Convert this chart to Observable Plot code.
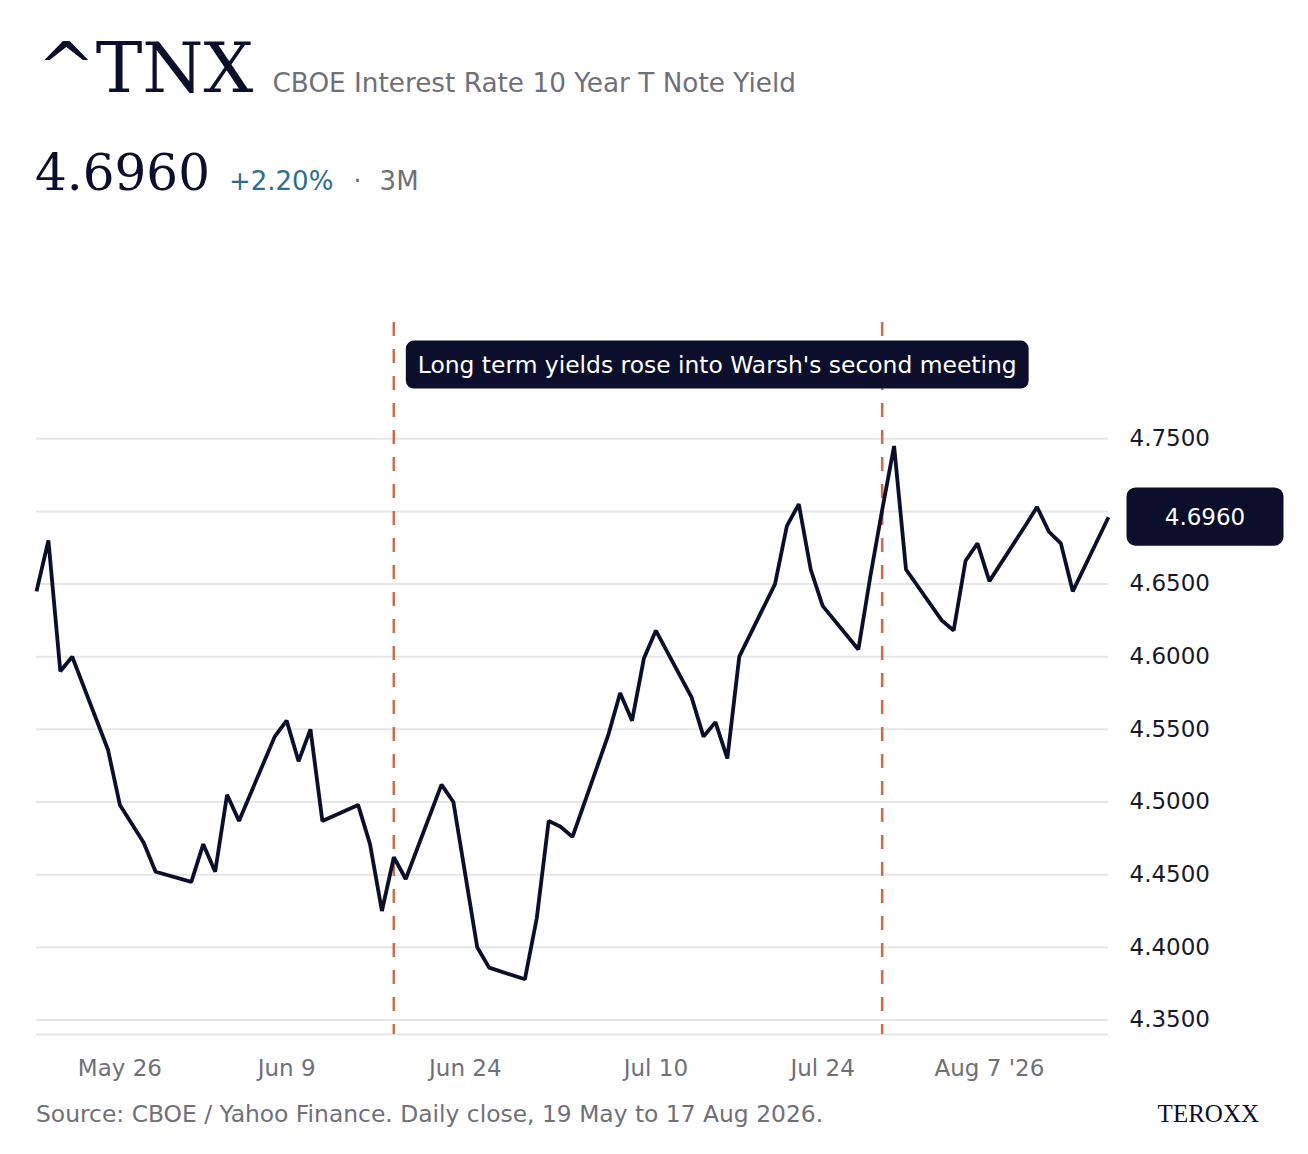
<!DOCTYPE html>
<html>
<head>
<meta charset="utf-8">
<script src="https://cdn.jsdelivr.net/npm/d3@7"></script>
<script src="https://cdn.jsdelivr.net/npm/@observablehq/plot@0.6"></script>
<style>
  html, body { margin: 0; padding: 0; background: #ffffff; }
  #page { position: relative; width: 1308px; height: 1154px; overflow: hidden; background: #fff; }
  .row { position: absolute; display: flex; align-items: baseline; line-height: 1; white-space: nowrap; }
  .row span { line-height: 1; }
  #chart { position: absolute; left: 0; top: 290px; }
</style>
</head>
<body>
<div id="page">
  <div class="row" style="left:37px; top:32.5px;">
    <span style="font-family:'DejaVu Serif'; font-size:70px; color:#0b0f2b;">^TNX</span>
    <span style="font-family:'DejaVu Sans'; font-size:26.3px; color:#6f7078; margin-left:19px;">CBOE Interest Rate 10 Year T Note Yield</span>
  </div>
  <div class="row" style="left:35px; top:148.4px;">
    <span style="font-family:'DejaVu Serif'; font-size:50px; color:#0b0f2b;">4.6960</span>
    <span style="font-family:'DejaVu Sans'; font-size:26px; color:#2f6e8e; margin-left:19px;">+2.20%</span>
    <span style="font-family:'DejaVu Sans'; font-size:26px; color:#6f7078; margin-left:20px;">·</span>
    <span style="font-family:'DejaVu Sans'; font-size:26px; color:#6f7078; margin-left:18px;">3M</span>
  </div>
  <div id="chart"></div>
  <div class="row" style="left:36px; top:1102.9px;">
    <span style="font-family:'DejaVu Sans'; font-size:23.4px; color:#6f7078;">Source: CBOE / Yahoo Finance. Daily close, 19 May to 17 Aug 2026.</span>
  </div>
  <div class="row" style="right:49px; top:1101px;">
    <span style="font-family:'Liberation Serif'; font-size:25px; color:#0b0f2b;">TEROXX</span>
  </div>
</div>
<script>
// ---- data ----
const dates = [
  "2026-05-19","2026-05-20","2026-05-21","2026-05-22","2026-05-25","2026-05-26","2026-05-27","2026-05-28","2026-05-29",
  "2026-06-01","2026-06-02","2026-06-03","2026-06-04","2026-06-05","2026-06-08","2026-06-09","2026-06-10","2026-06-11","2026-06-12",
  "2026-06-15","2026-06-16","2026-06-17","2026-06-18","2026-06-19","2026-06-22","2026-06-23","2026-06-24","2026-06-25","2026-06-26",
  "2026-06-29","2026-06-30","2026-07-01","2026-07-02","2026-07-03","2026-07-06","2026-07-07","2026-07-08","2026-07-09","2026-07-10",
  "2026-07-13","2026-07-14","2026-07-15","2026-07-16","2026-07-17","2026-07-20","2026-07-21","2026-07-22","2026-07-23","2026-07-24",
  "2026-07-27","2026-07-28","2026-07-29","2026-07-30","2026-07-31","2026-08-03","2026-08-04","2026-08-05","2026-08-06","2026-08-07",
  "2026-08-10","2026-08-11","2026-08-12","2026-08-13","2026-08-14","2026-08-17"
];
const values = [
  4.645, 4.680, 4.590, 4.600, 4.536, 4.498, 4.485, 4.472, 4.452,
  4.445, 4.471, 4.452, 4.505, 4.487, 4.545, 4.556, 4.528, 4.550, 4.487,
  4.498, 4.471, 4.425, 4.462, 4.447, 4.512, 4.500, 4.450, 4.400, 4.386,
  4.378, 4.420, 4.487, 4.483, 4.476, 4.546, 4.575, 4.556, 4.599, 4.618,
  4.572, 4.545, 4.555, 4.530, 4.600, 4.650, 4.690, 4.705, 4.660, 4.635,
  4.605, 4.655, 4.701, 4.745, 4.660, 4.625, 4.618, 4.666, 4.678, 4.652,
  4.690, 4.703, 4.686, 4.678, 4.645, 4.696
];
const xTickDates = ["2026-05-26","2026-06-09","2026-06-24","2026-07-10","2026-07-24","2026-08-07"];
const xTickLabels = ["May 26","Jun 9","Jun 24","Jul 10","Jul 24","Aug 7 '26"];
const yGridTicks = [4.35, 4.40, 4.45, 4.50, 4.55, 4.60, 4.65, 4.70, 4.75];
// 4.7000 sits under the last-value badge in the reference, so it has no visible label
const yLabelTicks = [4.35, 4.40, 4.45, 4.50, 4.55, 4.60, 4.65, 4.75];
const meetingDates = ["2026-06-18","2026-07-29"];
const annotationDates = ["2026-06-18"];
const annotationValues = [4.80];
const annotationTexts = ["Long term yields rose into Warsh's second meeting"];
const xDomain = ["2026-05-19","2026-08-17"];
const yDomain = [4.34, 4.83];

// ---- build ----
const parse = s => new Date(s + "T00:00:00Z");
const series = dates.map((d, i) => ({date: parse(d), value: values[i]}));
const last = series[series.length - 1];
const lastLabel = last.value.toFixed(4);
const tickDates = xTickDates.map(parse);
const fmtX = d => { const i = tickDates.findIndex(t => +t === +d); return i >= 0 ? xTickLabels[i] : ""; };
const annotations = annotationDates.map((d, i) => ({date: parse(d), value: annotationValues[i], text: annotationTexts[i]}));

const NAVY = "#0b0f2b";
const GRID = "#e6e6e6";
const RULE = "#c8704d";

const chart = Plot.plot({
  width: 1308,
  height: 804,
  marginTop: 32,
  marginBottom: 60,
  marginLeft: 36,
  marginRight: 200,
  style: {fontFamily: "DejaVu Sans", fontSize: "23px", background: "transparent", overflow: "visible"},
  x: {type: "utc", domain: xDomain.map(parse)},
  y: {domain: yDomain},
  marks: [
    Plot.gridY(yGridTicks, {stroke: GRID, strokeOpacity: 1, strokeWidth: 2}),
    Plot.ruleY([yDomain[0]], {stroke: GRID, strokeWidth: 2}),
    Plot.ruleX(meetingDates.map(parse), {stroke: RULE, strokeWidth: 2.6, strokeDasharray: "14,13"}),
    Plot.line(series, {x: "date", y: "value", stroke: NAVY, strokeWidth: 3.8, strokeLinejoin: "miter", strokeLinecap: "butt"}),
    Plot.axisX(tickDates, {tickSize: 0, tickPadding: 25, tickFormat: fmtX, color: "#6f7078", fontSize: 23, label: null}),
    Plot.axisY(yLabelTicks, {anchor: "right", tickSize: 0, tickPadding: 21, tickFormat: d => d.toFixed(4), color: "#16192c", fontSize: 23, label: null}),
    Plot.text(annotations, {x: "date", y: "value", text: "text", textAnchor: "start", dx: 24, dy: -1, fill: "white", fontSize: 23.4}),
    Plot.text([last], {x: "date", y: "value", text: () => lastLabel, textAnchor: "middle", dx: 96.5, fill: "white", fontSize: 23})
  ]
});
document.getElementById("chart").appendChild(chart);

// rounded label boxes behind the white text marks
const boxFor = new Map([
  ...annotationTexts.map(t => [t, {padX: 12, padY: 10, rx: 8}]),
  [lastLabel, {padX: 38.25, padY: 16.1, rx: 9}]
]);
chart.querySelectorAll("text").forEach(t => {
  const st = boxFor.get(t.textContent);
  if (!st || t.getAttribute("fill") === null && t.parentNode.getAttribute("fill") !== "white") return;
  const b = t.getBBox();
  const r = document.createElementNS("http://www.w3.org/2000/svg", "rect");
  r.setAttribute("x", b.x - st.padX);
  r.setAttribute("y", b.y - st.padY);
  r.setAttribute("width", b.width + 2 * st.padX);
  r.setAttribute("height", b.height + 2 * st.padY);
  r.setAttribute("rx", st.rx);
  r.setAttribute("fill", NAVY);
  if (t.getAttribute("transform")) r.setAttribute("transform", t.getAttribute("transform"));
  t.parentNode.insertBefore(r, t);
});
</script>
</body>
</html>
